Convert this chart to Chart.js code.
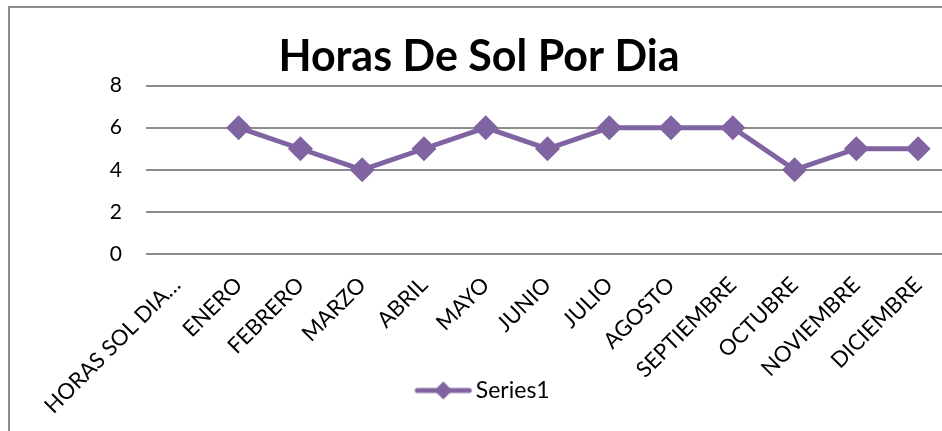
<!DOCTYPE html>
<html><head><meta charset="utf-8">
<script src="https://cdn.jsdelivr.net/npm/chart.js@4.4.1/dist/chart.umd.min.js"></script>
<style>
html,body{margin:0;padding:0;background:#fff;overflow:hidden;width:942px;height:431px;position:relative;}
#frame{position:absolute;left:8px;top:6px;width:1000px;height:1000px;border:2px solid #8c8c8c;box-sizing:border-box;}
#wrap{position:absolute;left:9px;top:7px;width:940px;height:470px;}
</style></head><body>
<div id="frame"></div>
<div id="wrap"><canvas id="c" width="940" height="470"></canvas></div>
<script>
const categories = ["HORAS SOL DIA…","ENERO","FEBRERO","MARZO","ABRIL","MAYO","JUNIO","JULIO","AGOSTO","SEPTIEMBRE","OCTUBRE","NOVIEMBRE","DICIEMBRE"];
const series1 = [null,6,5,4,5,6,5,6,6,6,4,5,5];
const yTicks = [0,2,4,6,8];
const titleText = "Horas De Sol Por Dia";
const seriesName = "Series1";

const purple = '#8064A2';
const FONT = 'Lato, "Open Sans", sans-serif';

// legend symbol: line with diamond (image wider than its legend box so it reaches near the text)
const sym = document.createElement('canvas');
sym.width = 76; sym.height = 20;
(function(){
  const g = sym.getContext('2d');
  g.strokeStyle = purple; g.lineWidth = 5; g.lineCap = 'round';
  g.beginPath(); g.moveTo(19,10); g.lineTo(71,10); g.stroke();
  g.fillStyle = purple;
  g.beginPath(); g.moveTo(45,1); g.lineTo(54,10); g.lineTo(45,19); g.lineTo(36,10); g.closePath(); g.fill();
})();

// lift the legend so it sits beside the tall rotated category labels, as in the original
const LEGEND_LIFT = 35;
const liftLegend = {
  id: 'liftLegend',
  afterLayout(chart) {
    if (chart.legend) { chart.legend.top -= LEGEND_LIFT; chart.legend.bottom -= LEGEND_LIFT; }
  }
};

new Chart(document.getElementById('c'), {
  type: 'line',
  data: {
    labels: categories,
    datasets: [{
      label: seriesName,
      data: series1,
      borderColor: purple,
      backgroundColor: purple,
      borderWidth: 5,
      pointStyle: 'rectRot',
      pointRadius: 9,
      pointHoverRadius: 9,
      pointBackgroundColor: purple,
      pointBorderColor: purple,
      tension: 0
    }]
  },
  plugins: [liftLegend],
  options: {
    responsive: false,
    animation: false,
    devicePixelRatio: 1,
    layout: { autoPadding: false, padding: { left: 0, right: 0, top: 0, bottom: 30 } },
    plugins: {
      title: {
        display: true, text: titleText, color: '#000',
        font: { family: FONT, size: 43, weight: 'bold' },
        padding: { top: 24, bottom: 3 }
      },
      legend: {
        position: 'bottom',
        labels: {
          usePointStyle: true,
          pointStyle: sym,
          pointStyleWidth: 56,
          color: '#000',
          font: { family: FONT, size: 23 },
          padding: 0,
          generateLabels: (chart) => [{ text: seriesName, pointStyle: sym, fillStyle: purple, strokeStyle: purple, lineWidth: 0, datasetIndex: 0, hidden: false }]
        }
      },
      tooltip: { enabled: false }
    },
    scales: {
      x: {
        offset: true,
        grid: { display: false, offset: true },
        border: { display: false },
        ticks: {
          color: '#000', font: { family: FONT, size: 22 },
          maxRotation: 45, minRotation: 45, autoSkip: false, padding: 10
        },
        afterFit: (s) => { s.height = 160; s.paddingLeft = 0; s.paddingRight = 0; }
      },
      y: {
        min: 0, max: 8,
        afterBuildTicks: (s) => { s.ticks = yTicks.map(v => ({ value: v })); },
        grid: { color: '#8c8c8c', lineWidth: 2, drawTicks: false },
        border: { display: false },
        ticks: { color: '#000', font: { family: FONT, size: 21 }, padding: 24 },
        afterFit: (s) => { s.width = 137; }
      }
    }
  }
});
</script>
</body></html>
